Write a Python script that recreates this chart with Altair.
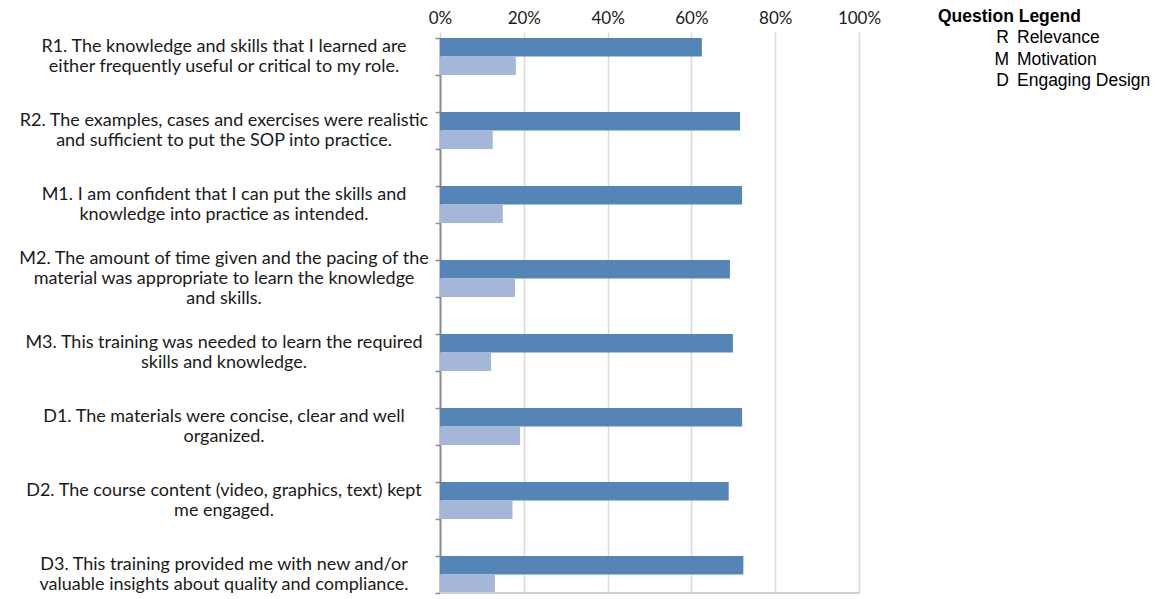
import altair as alt
import pandas as pd

# ---- data ----
question_lines = [
    ["R1. The knowledge and skills that I learned are", "either frequently useful or critical to my role."],
    ["R2. The examples, cases and exercises were realistic", "and sufficient to put the SOP into practice."],
    ["M1. I am confident that I can put the skills and", "knowledge into practice as intended."],
    ["M2. The amount of time given and the pacing of the", "material was appropriate to learn the knowledge", "and skills."],
    ["M3. This training was needed to learn the required", "skills and knowledge."],
    ["D1. The materials were concise, clear and well", "organized."],
    ["D2. The course content (video, graphics, text) kept", "me engaged."],
    ["D3. This training provided me with new and/or", "valuable insights about quality and compliance."],
]
series_names = ["Series 1", "Series 2"]
series_1 = [62.5, 71.6, 72.1, 69.2, 69.9, 72.1, 68.9, 72.4]
series_2 = [18.1, 12.6, 15.0, 17.9, 12.2, 19.1, 17.3, 13.1]
series_colors = ["#5585B7", "#A4B7D9"]
tick_values = [0, 0.2, 0.4, 0.6, 0.8, 1.0]

legend_title = "Question Legend"
legend_keys = ["R", "M", "D"]
legend_names = ["Relevance", "Motivation", "Engaging Design"]

# ---- build tables ----
labels = ["|".join(lines) for lines in question_lines]
domain = []
for i, lab in enumerate(labels):
    if i > 0:
        domain.append(f"gap{i}")
    domain.append(lab)

rows = []
for lab, v1, v2 in zip(labels, series_1, series_2):
    rows.append({"q": lab, "series": series_names[0], "value": v1 / 100})
    rows.append({"q": lab, "series": series_names[1], "value": v2 / 100})
df = pd.DataFrame(rows)
label_df = pd.DataFrame({"q": labels})

W, H = 419, 555
BAND = H / len(domain)
LABEL_FONT = "Lato"
LINE_H = 20

y_scale = alt.Scale(domain=domain, paddingInner=0, paddingOuter=0)

bars = alt.Chart(df).mark_bar().encode(
    x=alt.X(
        "value:Q",
        scale=alt.Scale(domain=[0, 1], nice=False),
        axis=alt.Axis(
            orient="top", values=tick_values, format=".0%", grid=True,
            gridColor="#D9D9D9", gridWidth=1.5, tickColor="#D9D9D9", tickWidth=1.5,
            tickSize=6, domain=False, labelFont=LABEL_FONT, labelFontSize=17,
            labelColor="#1a1a1a", labelPadding=5, labelFlush=False,
        ),
        title=None,
    ),
    y=alt.Y(
        "q:N", sort=domain, scale=y_scale,
        axis=alt.Axis(
            tickBand="extent", labels=False,
            domainColor="#8C8C8C", domainWidth=2, tickColor="#8C8C8C", tickWidth=1.5,
            tickSize=5, grid=False,
        ),
        title=None,
    ),
    yOffset=alt.YOffset("series:N", scale=alt.Scale(domain=series_names, paddingInner=0, paddingOuter=0)),
    color=alt.Color("series:N", scale=alt.Scale(domain=series_names, range=series_colors), legend=None),
)

qlabels = alt.Chart(label_df).transform_calculate(
    lines="split(datum.q, '|')"
).transform_calculate(
    shift=f"{BAND / 2} - (length(datum.lines) - 1) * {LINE_H / 2}"
).mark_text(
    align="center", baseline="middle", font=LABEL_FONT, fontSize=18,
    lineHeight=LINE_H, color="#1a1a1a",
).encode(
    x=alt.value(-216),
    y=alt.Y("q:N", sort=domain, scale=y_scale, title=None),
    yOffset=alt.YOffset("shift:Q", scale=None),
    text="lines:N",
)

one = alt.Data(values=[{"k": 0}])
bottom_border = alt.Chart(one).mark_rule(color="#D0D0D0", strokeWidth=2).encode(
    x=alt.datum(0), x2=alt.datum(1), y=alt.value(H)
)

LEG_FONT = "Liberation Sans"
leg_title = alt.Chart(one).mark_text(
    align="left", baseline="alphabetic", font=LEG_FONT, fontSize=17.5,
    fontWeight="bold", color="#000000",
).encode(x=alt.value(498), y=alt.value(-16.5), text=alt.value(legend_title))

leg_keys = alt.Chart(one).mark_text(
    align="right", baseline="alphabetic", font=LEG_FONT, fontSize=17.5,
    lineHeight=21.7, color="#000000",
).encode(x=alt.value(569), y=alt.value(5), text=alt.value(legend_keys))

leg_names = alt.Chart(one).mark_text(
    align="left", baseline="alphabetic", font=LEG_FONT, fontSize=17.5,
    lineHeight=21.7, color="#000000",
).encode(x=alt.value(577), y=alt.value(5), text=alt.value(legend_names))

chart = alt.layer(bars, bottom_border, qlabels, leg_title, leg_keys, leg_names).resolve_scale(
    yOffset="independent"
).properties(
    width=W, height=H,
    autosize=alt.AutoSizeParams(type="none"),
    padding={"left": 432, "top": 30, "right": 296, "bottom": 4},
).configure_view(stroke=None)

chart.save("out.html", embed_options={"renderer": "svg", "actions": False})
